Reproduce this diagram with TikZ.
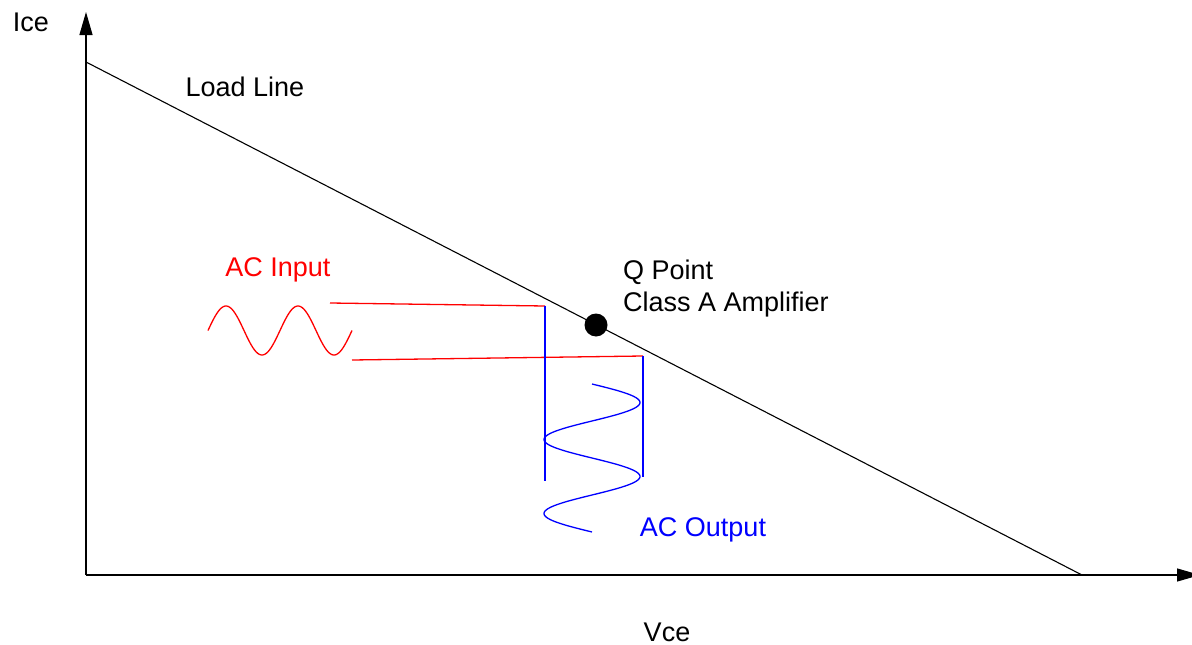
\documentclass[tikz,border=0pt]{standalone}
\usepackage{fontspec}
\setmainfont{Liberation Sans}
\usetikzlibrary{arrows.meta}
\definecolor{acred}{RGB}{255,0,0}
\definecolor{acblue}{RGB}{0,0,255}
\tikzset{
  axis/.style={line width=1.2pt, -{Triangle[length=23pt,width=13pt]}},
  loadline/.style={line width=1.1pt},
  inline/.style={acred, line width=1.3pt},
  outline/.style={acblue, line width=1.3pt},
  lbl/.style={inner sep=0pt, anchor=base, font=\fontsize{27}{32}\selectfont},
  lblw/.style={inner sep=0pt, anchor=base west, font=\fontsize{27}{32}\selectfont},
}
\begin{document}
\begin{tikzpicture}[x=1pt,y=-1pt]
\useasboundingbox (0,0) rectangle (1192,645);
% axes
\coordinate (O) at (86,575);
\coordinate (ytip) at (86,12);
\coordinate (xtip) at (1200,575);
\draw[axis] (O) -- (ytip);
\draw[axis] (O) -- (xtip);
% load line
\coordinate (LL1) at (86,62);
\coordinate (LL2) at (1082,575);
\draw[loadline] (LL1) -- (LL2);
% Q point
\node[circle, fill=black, minimum size=23pt, inner sep=0pt] (Q) at (596,325) {};
% red projection lines
\coordinate (r1a) at (330,303);
\coordinate (r1b) at (545,306);
\coordinate (r2a) at (352,360);
\coordinate (r2b) at (643,356);
\draw[inline] (r1a) -- (r1b);
\draw[inline] (r2a) -- (r2b);
% blue vertical lines
\coordinate (b1b) at (545,481);
\coordinate (b2b) at (643,477);
\draw[outline] (r1b) -- (b1b);
\draw[outline] (r2b) -- (b2b);
% input sine
\draw[inline, domain=208:352, samples=120, smooth, variable=\t]
  plot (\t, {330.5 - 24.5*sin(5*(\t-208))});
% output sine
\draw[outline, domain=0:148, samples=120, smooth, variable=\t]
  plot ({592 + 48*sin(4.865*\t)}, {384+\t});
% labels
\node[lbl] (ice) at (31,31) {Ice};
\node[lbl] (vce) at (667,641) {Vce};
\node[lbl] (load) at (245,96) {Load Line};
\node[lbl, text=acred] (acin) at (278,276) {AC Input};
\node[lblw] (qp) at (623,279) {Q Point};
\node[lblw] (cls) at (623,311) {Class A Amplifier};
\node[lbl, text=acblue] (acout) at (703,536) {AC Output};
\end{tikzpicture}
\end{document}
